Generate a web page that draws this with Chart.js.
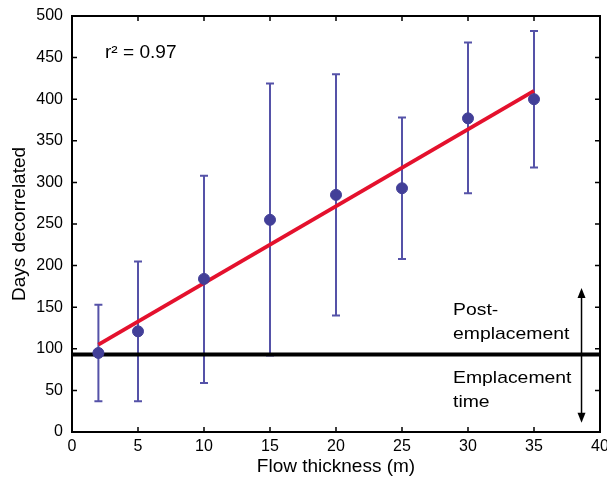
<!DOCTYPE html>
<html>
<head>
<meta charset="utf-8">
<script src="https://cdn.jsdelivr.net/npm/chart.js@4.4.0/dist/chart.umd.min.js"></script>
<style>
  html, body { margin: 0; padding: 0; background: #fff; }
  #wrap { width: 607px; height: 479px; }
</style>
</head>
<body>
<div id="wrap"><canvas id="chart1"></canvas></div>
<script>
// values
let thickness = [2, 5, 10, 15, 20, 25, 30, 35];
let daysMean = [95, 121, 184, 255, 285, 293, 377, 400];
let daysLow = [37, 37, 59, 92, 140, 208, 287, 318];
let daysHigh = [153, 205, 308, 419, 430, 378, 468, 482];
let fitX = [2, 35];
let fitY = [105, 410];
let emplacementDays = 93;
let xTicks = [0, 5, 10, 15, 20, 25, 30, 35, 40];
let yTicks = [0, 50, 100, 150, 200, 250, 300, 350, 400, 450, 500];
let arrowX = 38.6;
let arrowY = [11, 173];

let font = "'Liberation Sans', Arial, Helvetica, sans-serif";

// text in the picture is a bit wider than the font, stretch it
function wideText(ctx, txt, x, y, sx) {
    ctx.save();
    ctx.translate(x, y);
    ctx.scale(sx, 1);
    ctx.fillText(txt, 0, 0);
    ctx.restore();
}

let extras = {
    id: 'extras',
    beforeDatasetsDraw(chart) {
        let ctx = chart.ctx;
        let xs = chart.scales.x, ys = chart.scales.y;
        let a = chart.chartArea;
        ctx.save();
        // box
        ctx.strokeStyle = '#000';
        ctx.lineWidth = 2;
        ctx.strokeRect(a.left, a.top, a.right - a.left, a.bottom - a.top);
        // inward ticks on all sides
        ctx.lineWidth = 1.5;
        xTicks.slice(1, -1).forEach(v => {
            let px = xs.getPixelForValue(v);
            ctx.beginPath();
            ctx.moveTo(px, a.bottom); ctx.lineTo(px, a.bottom - 5);
            ctx.moveTo(px, a.top); ctx.lineTo(px, a.top + 5);
            ctx.stroke();
        });
        yTicks.slice(1, -1).forEach(v => {
            let py = ys.getPixelForValue(v);
            ctx.beginPath();
            ctx.moveTo(a.left, py); ctx.lineTo(a.left + 5, py);
            ctx.moveTo(a.right, py); ctx.lineTo(a.right - 5, py);
            ctx.stroke();
        });
        // error bars
        ctx.strokeStyle = '#5552a8';
        ctx.lineWidth = 2;
        thickness.forEach((t, i) => {
            let px = xs.getPixelForValue(t);
            let lo = ys.getPixelForValue(daysLow[i]);
            let hi = ys.getPixelForValue(daysHigh[i]);
            ctx.beginPath();
            ctx.moveTo(px, lo); ctx.lineTo(px, hi);
            ctx.moveTo(px - 4, lo); ctx.lineTo(px + 4, lo);
            ctx.moveTo(px - 4, hi); ctx.lineTo(px + 4, hi);
            ctx.stroke();
        });
        ctx.restore();
    },
    afterDatasetsDraw(chart) {
        let ctx = chart.ctx;
        let xs = chart.scales.x, ys = chart.scales.y;
        ctx.save();
        // arrow
        let ax = xs.getPixelForValue(arrowX);
        let y0 = ys.getPixelForValue(arrowY[0]);
        let y1 = ys.getPixelForValue(arrowY[1]);
        ctx.strokeStyle = '#000';
        ctx.fillStyle = '#000';
        ctx.lineWidth = 1.5;
        ctx.beginPath();
        ctx.moveTo(ax, y0 - 6); ctx.lineTo(ax, y1 + 6);
        ctx.stroke();
        ctx.beginPath();
        ctx.moveTo(ax, y1); ctx.lineTo(ax - 4, y1 + 10); ctx.lineTo(ax + 4, y1 + 10); ctx.closePath();
        ctx.fill();
        ctx.beginPath();
        ctx.moveTo(ax, y0); ctx.lineTo(ax - 4, y0 - 10); ctx.lineTo(ax + 4, y0 - 10); ctx.closePath();
        ctx.fill();
        // text
        ctx.textBaseline = 'alphabetic';
        ctx.textAlign = 'left';
        ctx.font = '17px ' + font;
        wideText(ctx, 'Post-', 453, 315, 1.14);
        wideText(ctx, 'emplacement', 453, 339, 1.14);
        wideText(ctx, 'Emplacement', 453, 383, 1.14);
        wideText(ctx, 'time', 453, 407, 1.14);
        ctx.font = '18px ' + font;
        wideText(ctx, 'r\u00b2 = 0.97', 105, 58, 1.06);
        ctx.restore();
    }
};

let ctx1 = document.getElementById('chart1').getContext('2d');
new Chart(ctx1, {
    type: 'scatter',
    data: {
        datasets: [{
            label: 'Emplacement',
            type: 'line',
            data: [{ x: 0, y: emplacementDays }, { x: 40, y: emplacementDays }],
            borderColor: '#000',
            borderWidth: 4,
            pointRadius: 0,
            order: 3
        }, {
            label: 'Fit',
            type: 'line',
            data: fitX.map((x, i) => ({ x: x, y: fitY[i] })),
            borderColor: '#e4112d',
            borderWidth: 4,
            pointRadius: 0,
            order: 2
        }, {
            label: 'Days decorrelated',
            data: thickness.map((t, i) => ({ x: t, y: daysMean[i] })),
            backgroundColor: '#423f98',
            borderColor: '#423f98',
            pointRadius: 5.5,
            order: 1
        }]
    },
    options: {
        responsive: true,
        maintainAspectRatio: false,
        animation: false,
        layout: { padding: { top: 16, right: 7, left: 0, bottom: 0 } },
        plugins: { legend: { display: false }, tooltip: { enabled: false } },
        scales: {
            x: {
                type: 'linear', min: 0, max: 40,
                afterBuildTicks: s => { s.ticks = xTicks.map(v => ({ value: v })); },
                afterFit: s => { s.height = 47; s.paddingRight = 0; s.paddingLeft = 0; },
                grid: { display: false, drawTicks: false },
                border: { display: false },
                ticks: { color: '#000', font: { family: font, size: 16 }, padding: 5, maxRotation: 0 },
                title: { display: true, text: 'Flow thickness (m)', color: '#000', font: { family: font, size: 19 }, padding: { top: 0, bottom: 1 } }
            },
            y: {
                type: 'linear', min: 0, max: 500,
                afterBuildTicks: s => { s.ticks = yTicks.map(v => ({ value: v })); },
                afterFit: s => { s.width = 72; s.paddingTop = 0; s.paddingBottom = 0; },
                grid: { display: false, drawTicks: false },
                border: { display: false },
                ticks: { color: '#000', font: { family: font, size: 16 }, padding: 9 },
                title: { display: true, text: 'Days decorrelated', color: '#000', font: { family: font, size: 19 }, padding: { top: 8, bottom: 0 } }
            }
        }
    },
    plugins: [extras]
});
</script>
</body>
</html>
